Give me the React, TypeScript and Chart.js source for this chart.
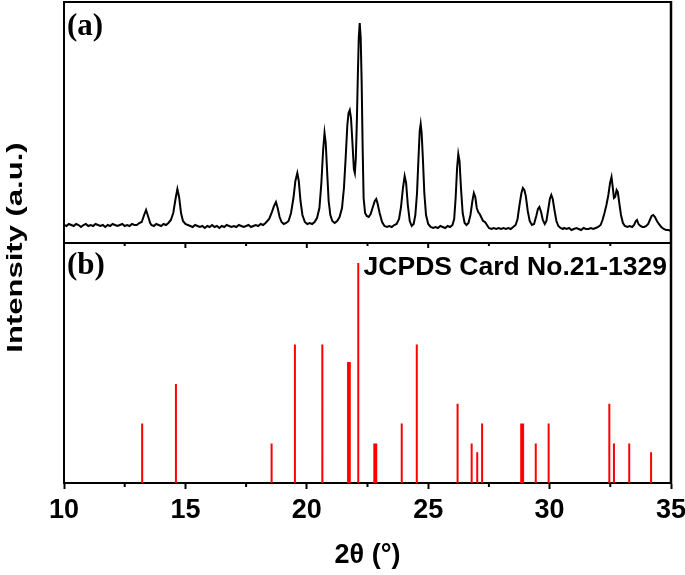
import { useEffect, useRef } from 'react';
import { Chart, registerables } from 'chart.js';

Chart.register(...registerables);

// ---- axis ----
const xMin = 10;
const xMax = 35;
const xStep = 5;
const minorTicks = [12.5, 17.5, 22.5, 27.5, 32.5];

// ---- panel (a): measured XRD pattern, [2θ, intensity (a.u.)] ----
const patternPoints: [number, number][] = [
  [10.0, 18], [10.1, 17], [10.2, 19], [10.3, 18], [10.4, 17], [10.5, 19], [10.6, 18], [10.7, 16],
  [10.8, 18], [10.9, 19], [11.0, 17], [11.1, 18], [11.2, 17], [11.3, 19], [11.4, 18], [11.5, 17],
  [11.6, 18], [11.7, 16], [11.8, 18], [11.9, 17], [12.0, 19], [12.1, 18], [12.2, 17], [12.3, 18],
  [12.4, 19], [12.5, 17], [12.6, 18], [12.7, 17], [12.8, 19], [12.9, 18], [13.0, 18], [13.1, 20],
  [13.2, 21], [13.3, 28], [13.38, 33], [13.46, 27], [13.55, 20],
  [13.6, 18], [13.7, 17], [13.8, 19], [13.9, 18], [14.0, 17], [14.1, 19], [14.2, 18], [14.3, 20],
  [14.4, 23], [14.5, 30], [14.6, 45], [14.67, 54], [14.74, 46], [14.82, 30], [14.9, 22], [15.0, 19],
  [15.1, 18], [15.2, 17], [15.3, 16], [15.4, 18], [15.5, 17], [15.6, 16], [15.7, 17], [15.8, 15],
  [15.9, 17], [16.0, 16], [16.1, 18], [16.2, 16], [16.3, 17], [16.4, 15], [16.5, 17], [16.6, 16],
  [16.7, 18], [16.8, 17], [16.9, 16], [17.0, 17], [17.1, 16], [17.2, 18], [17.3, 17], [17.4, 16],
  [17.5, 17], [17.6, 18], [17.7, 16], [17.8, 17], [17.9, 18], [18.0, 17], [18.1, 19], [18.2, 18],
  [18.3, 20], [18.45, 24], [18.55, 30], [18.65, 37], [18.73, 41], [18.8, 35], [18.88, 26],
  [18.96, 21], [19.05, 19], [19.15, 20], [19.25, 22], [19.35, 30], [19.45, 45], [19.53, 62],
  [19.61, 70], [19.67, 62], [19.74, 42], [19.82, 28], [19.92, 21], [20.02, 19], [20.12, 20],
  [20.22, 19], [20.32, 21], [20.42, 25], [20.52, 35], [20.6, 60], [20.67, 92], [20.73, 110],
  [20.78, 100], [20.84, 70], [20.9, 42], [20.97, 28], [21.05, 22], [21.15, 20], [21.25, 22],
  [21.35, 26], [21.45, 35], [21.53, 55], [21.6, 85], [21.67, 118], [21.72, 130], [21.77, 133],
  [21.82, 125], [21.88, 100], [21.94, 74], [21.98, 70], [22.02, 85], [22.06, 120], [22.1, 165],
  [22.14, 205], [22.18, 220], [22.22, 205], [22.26, 160], [22.3, 95], [22.34, 45], [22.4, 30],
  [22.47, 27], [22.55, 26], [22.63, 29], [22.72, 36], [22.8, 42], [22.86, 44], [22.92, 39],
  [23.0, 30], [23.1, 21], [23.2, 17], [23.3, 16], [23.4, 17], [23.5, 16], [23.6, 18], [23.7, 19],
  [23.8, 24], [23.88, 36], [23.96, 55], [24.03, 67], [24.09, 60], [24.16, 38], [24.24, 22],
  [24.32, 17], [24.4, 19], [24.47, 28], [24.54, 50], [24.6, 85], [24.65, 112], [24.69, 119],
  [24.73, 110], [24.78, 85], [24.84, 50], [24.91, 28], [25.0, 19], [25.1, 16], [25.2, 15],
  [25.3, 16], [25.4, 15], [25.5, 17], [25.6, 16], [25.7, 15], [25.8, 17], [25.9, 16], [26.0, 18],
  [26.07, 24], [26.13, 45], [26.19, 75], [26.24, 89], [26.29, 82], [26.35, 55], [26.42, 30],
  [26.5, 20], [26.58, 18], [26.66, 20], [26.74, 28], [26.82, 42], [26.88, 50], [26.94, 46],
  [27.0, 35], [27.06, 31], [27.12, 29], [27.18, 26], [27.26, 22], [27.34, 21], [27.42, 18],
  [27.5, 15], [27.6, 14], [27.7, 15], [27.8, 14], [27.9, 15], [28.0, 14], [28.1, 15], [28.2, 14],
  [28.3, 15], [28.4, 14], [28.5, 16], [28.6, 18], [28.68, 24], [28.76, 38], [28.84, 50],
  [28.9, 55], [28.96, 53], [29.02, 47], [29.1, 32], [29.18, 22], [29.27, 18], [29.36, 19],
  [29.45, 27], [29.52, 34], [29.58, 36], [29.65, 31], [29.72, 23], [29.8, 19], [29.87, 22],
  [29.94, 33], [30.01, 44], [30.07, 48], [30.13, 44], [30.2, 33], [30.28, 22], [30.36, 17],
  [30.45, 15], [30.55, 14], [30.6, 15], [30.7, 14], [30.8, 15], [30.9, 13], [31.0, 14],
  [31.1, 15], [31.2, 14], [31.3, 13], [31.4, 15], [31.5, 14], [31.6, 14], [31.7, 15], [31.8, 14],
  [31.9, 15], [32.0, 16], [32.1, 18], [32.18, 23], [32.26, 30], [32.34, 38], [32.42, 48],
  [32.49, 60], [32.55, 66], [32.6, 56], [32.65, 45], [32.7, 46], [32.76, 53], [32.81, 51],
  [32.87, 40], [32.94, 28], [33.02, 20], [33.1, 17], [33.2, 16], [33.3, 17], [33.4, 16],
  [33.48, 18], [33.55, 22], [33.6, 23], [33.66, 19], [33.74, 17], [33.82, 16], [33.9, 16],
  [33.98, 17], [34.06, 19], [34.13, 23], [34.2, 27], [34.27, 28], [34.34, 26], [34.42, 22],
  [34.5, 19], [34.6, 16], [34.7, 14], [34.8, 13], [34.9, 13], [35.0, 12],
];

// ---- panel (b): JCPDS Card No.21-1329 reference lines (2θ, relative intensity %) ----
const cardX = [
  13.22, 14.61, 18.55, 19.51, 20.64, 21.70, 21.77, 22.12, 22.78, 22.86, 23.91, 24.53,
  26.21, 26.79, 27.02, 27.22, 28.83, 28.91, 29.43, 29.96, 32.46, 32.65, 33.28, 34.18,
];
const cardI = [
  27, 45, 18, 63, 63, 55, 55, 100, 18, 18, 27, 63,
  36, 18, 14, 27, 27, 27, 18, 27, 36, 18, 18, 14,
];

const cardLabel = 'JCPDS Card No.21-1329';
const xTitle = '2\u03b8 (\u00b0)';
const yTitle = 'Intensity (a.u.)';
const panelA = '(a)';
const panelB = '(b)';

const decorPlugin = {
  id: 'decor',
  afterDraw(chart: any) {
    const { ctx, chartArea: a, scales } = chart;
    const xs = scales.x;
    const yDiv = scales.yA.getPixelForValue(0);
    ctx.save();
    ctx.strokeStyle = '#000';
    ctx.lineWidth = 2;
    ctx.lineJoin = 'miter';
    ctx.beginPath();
    ctx.moveTo(a.left, a.bottom + 1);
    ctx.lineTo(a.left, a.top);
    ctx.lineTo(a.right, a.top);
    ctx.stroke();
    ctx.lineWidth = 2.5;
    ctx.beginPath();
    ctx.moveTo(a.right, a.top - 1);
    ctx.lineTo(a.right, a.bottom + 1);
    ctx.stroke();
    ctx.lineWidth = 2;
    ctx.beginPath();
    ctx.moveTo(a.left, yDiv);
    ctx.lineTo(a.right, yDiv);
    ctx.stroke();
    // minor ticks on bottom axis + ticks along panel (a) bottom axis
    ctx.beginPath();
    minorTicks.forEach((v) => {
      const px = xs.getPixelForValue(v);
      ctx.moveTo(px, a.bottom);
      ctx.lineTo(px, a.bottom + 4);
      ctx.moveTo(px, yDiv);
      ctx.lineTo(px, yDiv + 3);
    });
    for (let v = xMin + xStep; v < xMax; v += xStep) {
      const px = xs.getPixelForValue(v);
      ctx.moveTo(px, yDiv);
      ctx.lineTo(px, yDiv + 5);
    }
    ctx.stroke();

    // texts
    ctx.fillStyle = '#000';
    ctx.font = 'bold 31px "Liberation Serif", "Times New Roman", serif';
    ctx.textAlign = 'left';
    ctx.textBaseline = 'alphabetic';
    ctx.fillText(panelA, a.left + 3, a.top + 33);
    ctx.fillText(panelB, a.left + 3, yDiv + 31);
    ctx.font = 'bold 26.5px "Liberation Sans", Arial, sans-serif';
    ctx.textAlign = 'right';
    ctx.fillText(cardLabel, a.right - 4, yDiv + 32);

    // y title (stretched along its length, as in the reference)
    ctx.save();
    ctx.translate(22, (a.top + a.bottom) / 2 + 5);
    ctx.rotate(-Math.PI / 2);
    ctx.scale(1.41, 1);
    ctx.font = 'bold 22px "Liberation Sans", Arial, sans-serif';
    ctx.textAlign = 'center';
    ctx.textBaseline = 'alphabetic';
    ctx.fillText(yTitle, 0, 0);
    ctx.restore();
    ctx.restore();
  },
};

export default function App() {
  const ref = useRef<HTMLCanvasElement | null>(null);
  useEffect(() => {
    if (!ref.current) return;
    const patternData = patternPoints.map(([x, y]) => ({ x, y }));
    const stickData: any[] = [];
    cardX.forEach((x, i) => {
      stickData.push({ x, y: 0 }, { x, y: cardI[i] }, { x, y: null });
    });
    const chart = new Chart(ref.current, {
      type: 'line',
      data: {
        datasets: [
          {
            label: 'pattern',
            data: patternData,
            yAxisID: 'yA',
            borderColor: '#000',
            borderWidth: 2,
            pointRadius: 0,
            tension: 0,
            fill: false,
          },
          {
            label: cardLabel,
            data: stickData,
            yAxisID: 'y',
            borderColor: '#ff0000',
            borderWidth: 2,
            pointRadius: 0,
            tension: 0,
            spanGaps: false,
            fill: false,
          },
        ],
      },
      options: {
        animation: false,
        responsive: true,
        maintainAspectRatio: false,
        devicePixelRatio: 1,
        layout: { padding: { top: 2, left: 64, right: 14, bottom: 0 } },
        plugins: { legend: { display: false }, tooltip: { enabled: false } },
        scales: {
          x: {
            type: 'linear',
            min: xMin,
            max: xMax,
            z: 1,
            ticks: {
              stepSize: xStep,
              color: '#000',
              padding: 5,
              maxRotation: 0,
              autoSkip: false,
              font: { family: '"Liberation Sans", Arial, sans-serif', size: 27, weight: 'bold' },
            },
            grid: { drawOnChartArea: false, drawTicks: true, tickLength: 6, tickColor: '#000', tickWidth: 2 },
            border: { display: true, color: '#000', width: 2 },
            title: {
              display: true,
              text: xTitle,
              color: '#000',
              padding: { top: 0, bottom: 3 },
              font: { family: '"Liberation Sans", Arial, sans-serif', size: 27, weight: 'bold' },
            },
            afterFit(scale: any) {
              scale.height = 92;
              scale.paddingLeft = 0;
              scale.paddingRight = 0;
            },
          },
          y: { type: 'linear', display: false, min: 0, max: 218.6 },
          yA: { type: 'linear', display: false, min: -240, max: 241 },
        },
      },
      plugins: [decorPlugin],
    });
    return () => chart.destroy();
  }, []);
  return (
    <div style={{ position: 'absolute', left: 0, top: 0, width: 685, height: 575, background: '#fff' }}>
      <canvas ref={ref} style={{ display: 'block' }} />
    </div>
  );
}
